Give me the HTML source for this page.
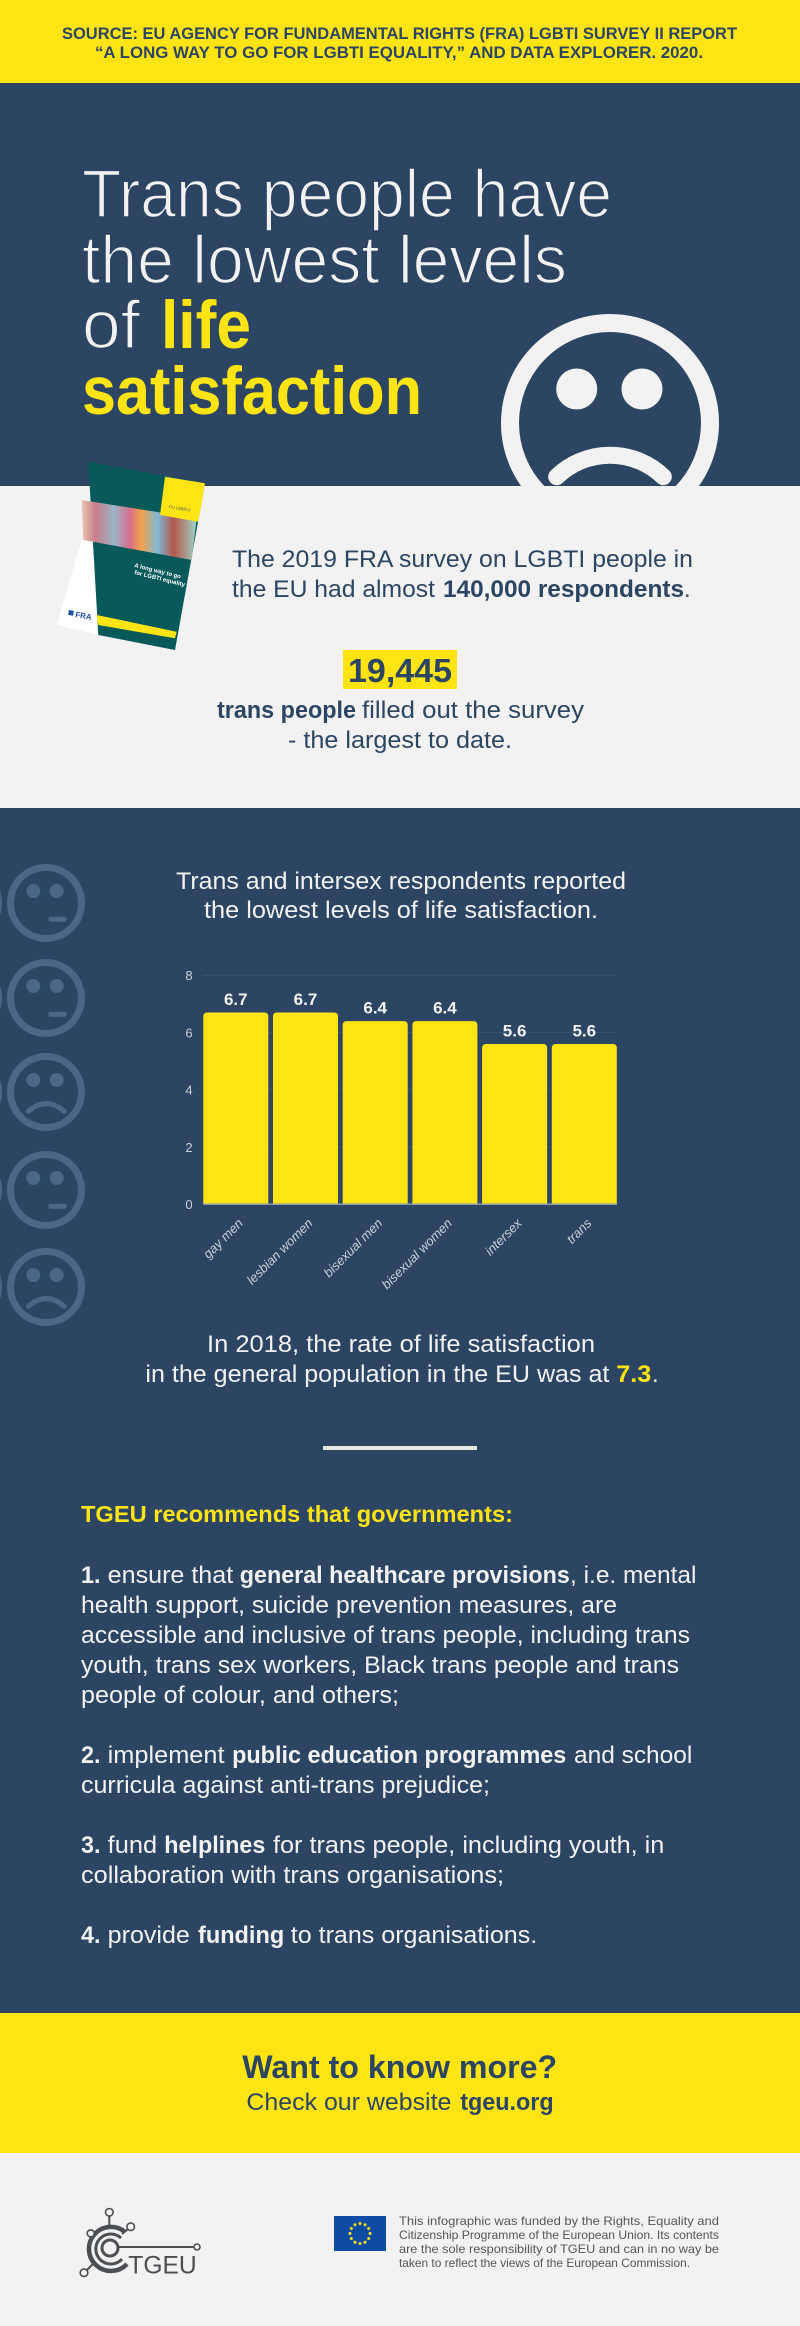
<!DOCTYPE html>
<html><head><meta charset="utf-8">
<style>
html,body{margin:0;padding:0;background:#2c4562;}
svg{display:block;}
text{font-family:"Liberation Sans",Arial,sans-serif;}
</style></head><body>
<svg width="800" height="2326" viewBox="0 0 800 2326" xmlns="http://www.w3.org/2000/svg">
<defs>
<linearGradient id="photo" x1="0" y1="0" x2="1" y2="0">
<stop offset="0" stop-color="#e9c5b3"/>
<stop offset="0.12" stop-color="#c97f8a"/>
<stop offset="0.28" stop-color="#9cb3c7"/>
<stop offset="0.42" stop-color="#d96f8e"/>
<stop offset="0.52" stop-color="#f0a24a"/>
<stop offset="0.66" stop-color="#7eb9d6"/>
<stop offset="0.8" stop-color="#b5574c"/>
<stop offset="1" stop-color="#9fd4c8"/>
</linearGradient>
</defs>
<rect x="0" y="0" width="800" height="2326" fill="#2c4562"/>

<!-- Header -->
<rect x="0" y="0" width="800" height="83" fill="#ffe414"/>
<text x="62" y="39" font-size="17" font-weight="700" fill="#2c4562" textLength="675" lengthAdjust="spacingAndGlyphs">SOURCE: EU AGENCY FOR FUNDAMENTAL RIGHTS (FRA) LGBTI SURVEY II REPORT</text>
<text x="95" y="58" font-size="17" font-weight="700" fill="#2c4562" textLength="608" lengthAdjust="spacingAndGlyphs">“A LONG WAY TO GO FOR LGBTI EQUALITY,” AND DATA EXPLORER. 2020.</text>

<!-- Title -->
<g font-size="68" fill="#f2f2f2" stroke="#2c4562" stroke-width="1.6">
<text x="82" y="217" textLength="530" lengthAdjust="spacingAndGlyphs">Trans people have</text>
<text x="82" y="283" textLength="485" lengthAdjust="spacingAndGlyphs">the lowest levels</text>
<text x="82" y="348" textLength="58" lengthAdjust="spacingAndGlyphs">of</text>
</g>
<text x="161" y="348" font-size="68" font-weight="700" fill="#ffe414" textLength="90" lengthAdjust="spacingAndGlyphs">life</text>
<text x="82" y="414" font-size="68" font-weight="700" fill="#ffe414" textLength="340" lengthAdjust="spacingAndGlyphs">satisfaction</text>

<!-- Big sad smiley -->
<g fill="#f2f2f2">
<circle cx="610" cy="423" r="100" fill="none" stroke="#f2f2f2" stroke-width="18"/>
<circle cx="576.7" cy="389" r="20.5"/>
<circle cx="642" cy="389" r="20.5"/>
<path d="M556.7 476.7 A76.8 76.8 0 0 1 663.3 476.7" fill="none" stroke="#f2f2f2" stroke-width="17" stroke-linecap="round"/>
</g>

<!-- Survey section -->
<rect x="0" y="486" width="800" height="322" fill="#f2f2f2"/>

<!-- Book -->
<polygon points="81.7,540 93.3,541.7 98.3,635 56.7,625" fill="#ffffff"/>
<polygon points="88.3,461.7 205,483.3 175,650 98.3,635" fill="#07595a"/>
<polygon points="81.7,500 196.7,518.3 191.7,560 83.3,540" fill="url(#photo)"/>
<polygon points="165,476.7 205,483.3 198.3,521.7 160,515" fill="#ffe414"/>
<polygon points="96.7,615 176.7,631.7 175,638.3 98.3,625" fill="#ffe414"/>
<text x="169" y="508" font-size="4" fill="#2c4562" transform="rotate(10 169 508)">EU LGBTI II</text>
<text x="134" y="567" font-size="6" font-weight="700" fill="#ffffff" transform="rotate(14 134 567)">A long way to go</text>
<text x="134" y="574" font-size="6" font-weight="700" fill="#ffffff" transform="rotate(14 134 574)">for LGBTI equality</text>
<rect x="69" y="610" width="5" height="5" fill="#1f4fa8" transform="rotate(10 69 610)"/>
<text x="75" y="617" font-size="8" font-weight="700" fill="#1f4fa8" transform="rotate(10 75 617)">FRA</text>

<g fill="#2c4562" font-size="24">
<text x="232" y="567" textLength="461" lengthAdjust="spacingAndGlyphs">The 2019 FRA survey on LGBTI people in</text>
<text x="232" y="597" textLength="203" lengthAdjust="spacingAndGlyphs">the EU had almost</text>
<text x="443" y="597" font-weight="700" textLength="241" lengthAdjust="spacingAndGlyphs">140,000 respondents</text>
<text x="684" y="597">.</text>
</g>
<rect x="343" y="650" width="114" height="39" fill="#ffe414"/>
<text x="348" y="682" font-size="33" font-weight="700" fill="#2c4562" textLength="104" lengthAdjust="spacingAndGlyphs">19,445</text>
<g fill="#2c4562" font-size="24">
<text x="217" y="718" font-weight="700" textLength="139" lengthAdjust="spacingAndGlyphs">trans people</text>
<text x="362" y="718" textLength="222" lengthAdjust="spacingAndGlyphs">filled out the survey</text>
<text x="288" y="748" textLength="224" lengthAdjust="spacingAndGlyphs">- the largest to date.</text>
</g>

<!-- Side smileys -->
<g fill="#4a6786" stroke="#4a6786">
<g transform="translate(46 903)">
<circle r="35.5" fill="none" stroke-width="7"/><circle cx="-37" cy="0" r="0" />
<circle cx="-12.7" cy="-12" r="7" stroke="none"/><circle cx="10.7" cy="-12" r="7" stroke="none"/>
<line x1="4.8" y1="16.3" x2="18.2" y2="16.3" stroke-width="5" stroke-linecap="round"/>
</g>
<g transform="translate(46 998)">
<circle r="35.5" fill="none" stroke-width="7"/>
<circle cx="-12.7" cy="-12" r="7" stroke="none"/><circle cx="10.7" cy="-12" r="7" stroke="none"/>
<line x1="4.8" y1="16.3" x2="18.2" y2="16.3" stroke-width="5" stroke-linecap="round"/>
</g>
<g transform="translate(46 1092)">
<circle r="35.5" fill="none" stroke-width="7"/>
<circle cx="-12.7" cy="-12" r="7" stroke="none"/><circle cx="10.7" cy="-12" r="7" stroke="none"/>
<path d="M-17.5 19.3 Q0 4 18.2 19.3" fill="none" stroke-width="5" stroke-linecap="round"/>
</g>
<g transform="translate(46 1190)">
<circle r="35.5" fill="none" stroke-width="7"/>
<circle cx="-12.7" cy="-12" r="7" stroke="none"/><circle cx="10.7" cy="-12" r="7" stroke="none"/>
<line x1="4.8" y1="16.3" x2="18.2" y2="16.3" stroke-width="5" stroke-linecap="round"/>
</g>
<g transform="translate(46 1287)">
<circle r="35.5" fill="none" stroke-width="7"/>
<circle cx="-12.7" cy="-12" r="7" stroke="none"/><circle cx="10.7" cy="-12" r="7" stroke="none"/>
<path d="M-17.5 19.3 Q0 4 18.2 19.3" fill="none" stroke-width="5" stroke-linecap="round"/>
</g>
<circle cx="-37" cy="903" r="35.5" fill="none" stroke-width="7"/>
<circle cx="-37" cy="998" r="35.5" fill="none" stroke-width="7"/>
<circle cx="-37" cy="1092" r="35.5" fill="none" stroke-width="7"/>
<circle cx="-37" cy="1190" r="35.5" fill="none" stroke-width="7"/>
<circle cx="-37" cy="1287" r="35.5" fill="none" stroke-width="7"/>
</g>

<!-- Chart title -->
<g fill="#f2f2f2" font-size="24">
<text x="176" y="889" textLength="450" lengthAdjust="spacingAndGlyphs">Trans and intersex respondents reported</text>
<text x="204" y="918" textLength="394" lengthAdjust="spacingAndGlyphs">the lowest levels of life satisfaction.</text>
</g>

<!-- Chart -->
<g stroke="#3b5470" stroke-width="1">
<line x1="203" y1="975.3" x2="617" y2="975.3"/>
<line x1="203" y1="1032.6" x2="617" y2="1032.6"/>
<line x1="203" y1="1089.8" x2="617" y2="1089.8"/>
<line x1="203" y1="1147.1" x2="617" y2="1147.1"/>
</g>
<g fill="#c9d0d8" font-size="13" text-anchor="middle">
<text x="189" y="980">8</text>
<text x="189" y="1037.3">6</text>
<text x="189" y="1094.5">4</text>
<text x="189" y="1151.8">2</text>
<text x="189" y="1209">0</text>
</g>
<g fill="#ffe414">
<path d="M203.3 1204.3 V1016.5 Q203.3 1012.5 207.3 1012.5 H264.3 Q268.3 1012.5 268.3 1016.5 V1204.3 Z"/>
<path d="M273 1204.3 V1016.5 Q273 1012.5 277 1012.5 H334 Q338 1012.5 338 1016.5 V1204.3 Z"/>
<path d="M342.7 1204.3 V1025.1 Q342.7 1021.1 346.7 1021.1 H403.7 Q407.7 1021.1 407.7 1025.1 V1204.3 Z"/>
<path d="M412.4 1204.3 V1025.1 Q412.4 1021.1 416.4 1021.1 H473.4 Q477.4 1021.1 477.4 1025.1 V1204.3 Z"/>
<path d="M482.1 1204.3 V1048 Q482.1 1044 486.1 1044 H543.1 Q547.1 1044 547.1 1048 V1204.3 Z"/>
<path d="M551.8 1204.3 V1048 Q551.8 1044 555.8 1044 H612.8 Q616.8 1044 616.8 1048 V1204.3 Z"/>
</g>
<line x1="203" y1="1204.3" x2="617" y2="1204.3" stroke="#8e9bab" stroke-width="1.5"/>
<g fill="#f2f2f2" font-size="17" font-weight="700" text-anchor="middle">
<text x="235.8" y="1005">6.7</text>
<text x="305.5" y="1005">6.7</text>
<text x="375.2" y="1013.6">6.4</text>
<text x="444.9" y="1013.6">6.4</text>
<text x="514.6" y="1036.5">5.6</text>
<text x="584.3" y="1036.5">5.6</text>
</g>
<g fill="#c9d0d8" font-size="13" font-style="italic" text-anchor="end">
<text transform="translate(243.8 1224) rotate(-45)">gay men</text>
<text transform="translate(313.5 1224) rotate(-45)">lesbian women</text>
<text transform="translate(383.2 1224) rotate(-45)">bisexual men</text>
<text transform="translate(452.9 1224) rotate(-45)">bisexual women</text>
<text transform="translate(522.6 1224) rotate(-45)">intersex</text>
<text transform="translate(592.3 1224) rotate(-45)">trans</text>
</g>

<!-- 2018 statement -->
<g fill="#f2f2f2" font-size="24">
<text x="207" y="1352" textLength="388" lengthAdjust="spacingAndGlyphs">In 2018, the rate of life satisfaction</text>
<text x="145.4" y="1382" textLength="464" lengthAdjust="spacingAndGlyphs">in the general population in the EU was at</text>
<text x="616.3" y="1382" font-weight="700" fill="#ffe414" textLength="35" lengthAdjust="spacingAndGlyphs">7.3</text>
<text x="652" y="1382">.</text>
</g>
<rect x="323" y="1446" width="154" height="4" fill="#e6e6e6"/>

<!-- Recommendations -->
<text x="81" y="1522" font-size="23" font-weight="700" fill="#ffe414" textLength="432" lengthAdjust="spacingAndGlyphs">TGEU recommends that governments:</text>
<g fill="#f2f2f2" font-size="24">
<text x="81" y="1583" font-weight="700" textLength="19.5" lengthAdjust="spacingAndGlyphs">1.</text>
<text x="107.7" y="1583" textLength="125.5" lengthAdjust="spacingAndGlyphs">ensure that</text>
<text x="239.8" y="1583" font-weight="700" textLength="330" lengthAdjust="spacingAndGlyphs">general healthcare provisions</text>
<text x="570" y="1583" textLength="126.4" lengthAdjust="spacingAndGlyphs">, i.e. mental</text>
<text x="81" y="1613" textLength="536" lengthAdjust="spacingAndGlyphs">health support, suicide prevention measures, are</text>
<text x="81" y="1643" textLength="609" lengthAdjust="spacingAndGlyphs">accessible and inclusive of trans people, including trans</text>
<text x="81" y="1673" textLength="598" lengthAdjust="spacingAndGlyphs">youth, trans sex workers, Black trans people and trans</text>
<text x="81" y="1703" textLength="318" lengthAdjust="spacingAndGlyphs">people of colour, and others;</text>

<text x="81" y="1763" font-weight="700" textLength="19.5" lengthAdjust="spacingAndGlyphs">2.</text>
<text x="107.7" y="1763" textLength="116.8" lengthAdjust="spacingAndGlyphs">implement</text>
<text x="232.1" y="1763" font-weight="700" textLength="334.2" lengthAdjust="spacingAndGlyphs">public education programmes</text>
<text x="574" y="1763" textLength="118.3" lengthAdjust="spacingAndGlyphs">and school</text>
<text x="81" y="1793" textLength="409" lengthAdjust="spacingAndGlyphs">curricula against anti-trans prejudice;</text>

<text x="81" y="1853" font-weight="700" textLength="19.5" lengthAdjust="spacingAndGlyphs">3.</text>
<text x="107.7" y="1853" textLength="49.4" lengthAdjust="spacingAndGlyphs">fund</text>
<text x="164.3" y="1853" font-weight="700" textLength="101" lengthAdjust="spacingAndGlyphs">helplines</text>
<text x="273" y="1853" textLength="391.3" lengthAdjust="spacingAndGlyphs">for trans people, including youth, in</text>
<text x="81" y="1883" textLength="423" lengthAdjust="spacingAndGlyphs">collaboration with trans organisations;</text>

<text x="81" y="1943" font-weight="700" textLength="19.5" lengthAdjust="spacingAndGlyphs">4.</text>
<text x="107.7" y="1943" textLength="82.1" lengthAdjust="spacingAndGlyphs">provide</text>
<text x="198" y="1943" font-weight="700" textLength="86.2" lengthAdjust="spacingAndGlyphs">funding</text>
<text x="290.8" y="1943" textLength="246.4" lengthAdjust="spacingAndGlyphs">to trans organisations.</text>
</g>

<!-- CTA -->
<rect x="0" y="2013" width="800" height="140" fill="#ffe414"/>
<text x="242.3" y="2078" font-size="32" font-weight="700" fill="#2c4562" textLength="314.8" lengthAdjust="spacingAndGlyphs">Want to know more?</text>
<text x="246.4" y="2110" font-size="24" fill="#2c4562" textLength="205" lengthAdjust="spacingAndGlyphs">Check our website</text>
<text x="460.2" y="2110" font-size="24" font-weight="700" fill="#2c4562" textLength="93.4" lengthAdjust="spacingAndGlyphs">tgeu.org</text>

<!-- Footer -->
<rect x="0" y="2153" width="800" height="173" fill="#f2f2f2"/>
<g stroke="#4b4e53" fill="none">
<path d="M125 2232 A22 22 0 1 0 127 2264" stroke-width="4.5"/>
<path d="M121 2238 A15 15 0 1 0 122 2259" stroke-width="3"/>
<circle cx="110" cy="2248" r="8" stroke-width="3"/>
<line x1="118" y1="2247" x2="194" y2="2247" stroke-width="2"/>
<line x1="109.3" y1="2216" x2="109.3" y2="2227" stroke-width="2"/>
<line x1="127.5" y1="2229.5" x2="122" y2="2234" stroke-width="2"/>
<line x1="87" y1="2270" x2="94" y2="2263" stroke-width="2"/>
</g>
<g stroke="#4b4e53" fill="#f2f2f2" stroke-width="1.6">
<circle cx="109.3" cy="2212.3" r="3.8"/>
<circle cx="130.7" cy="2226.7" r="3.8"/>
<circle cx="90.7" cy="2233.3" r="3.5"/>
<circle cx="84" cy="2272.7" r="3.8"/>
<circle cx="197" cy="2247" r="3"/>
</g>
<text x="128.3" y="2273.3" font-size="25" fill="#4b4e53" textLength="68.4" lengthAdjust="spacingAndGlyphs">TGEU</text>

<rect x="334" y="2216" width="52" height="35" fill="#0e4ba3"/>
<g fill="#ffe414">
<circle cx="360" cy="2223.5" r="1.5"/>
<circle cx="365" cy="2224.8" r="1.5"/>
<circle cx="368.7" cy="2228.5" r="1.5"/>
<circle cx="370" cy="2233.5" r="1.5"/>
<circle cx="368.7" cy="2238.5" r="1.5"/>
<circle cx="365" cy="2242.2" r="1.5"/>
<circle cx="360" cy="2243.5" r="1.5"/>
<circle cx="355" cy="2242.2" r="1.5"/>
<circle cx="351.3" cy="2238.5" r="1.5"/>
<circle cx="350" cy="2233.5" r="1.5"/>
<circle cx="351.3" cy="2228.5" r="1.5"/>
<circle cx="355" cy="2224.8" r="1.5"/>
</g>
<g fill="#555" font-size="12">
<text x="399" y="2225" textLength="320" lengthAdjust="spacingAndGlyphs">This infographic was funded by the Rights, Equality and</text>
<text x="399" y="2239" textLength="320" lengthAdjust="spacingAndGlyphs">Citizenship Programme of the European Union. Its contents</text>
<text x="399" y="2253" textLength="320" lengthAdjust="spacingAndGlyphs">are the sole responsibility of TGEU and can in no way be</text>
<text x="399" y="2267" textLength="291" lengthAdjust="spacingAndGlyphs">taken to reflect the views of the European Commission.</text>
</g>
</svg>
</body></html>
